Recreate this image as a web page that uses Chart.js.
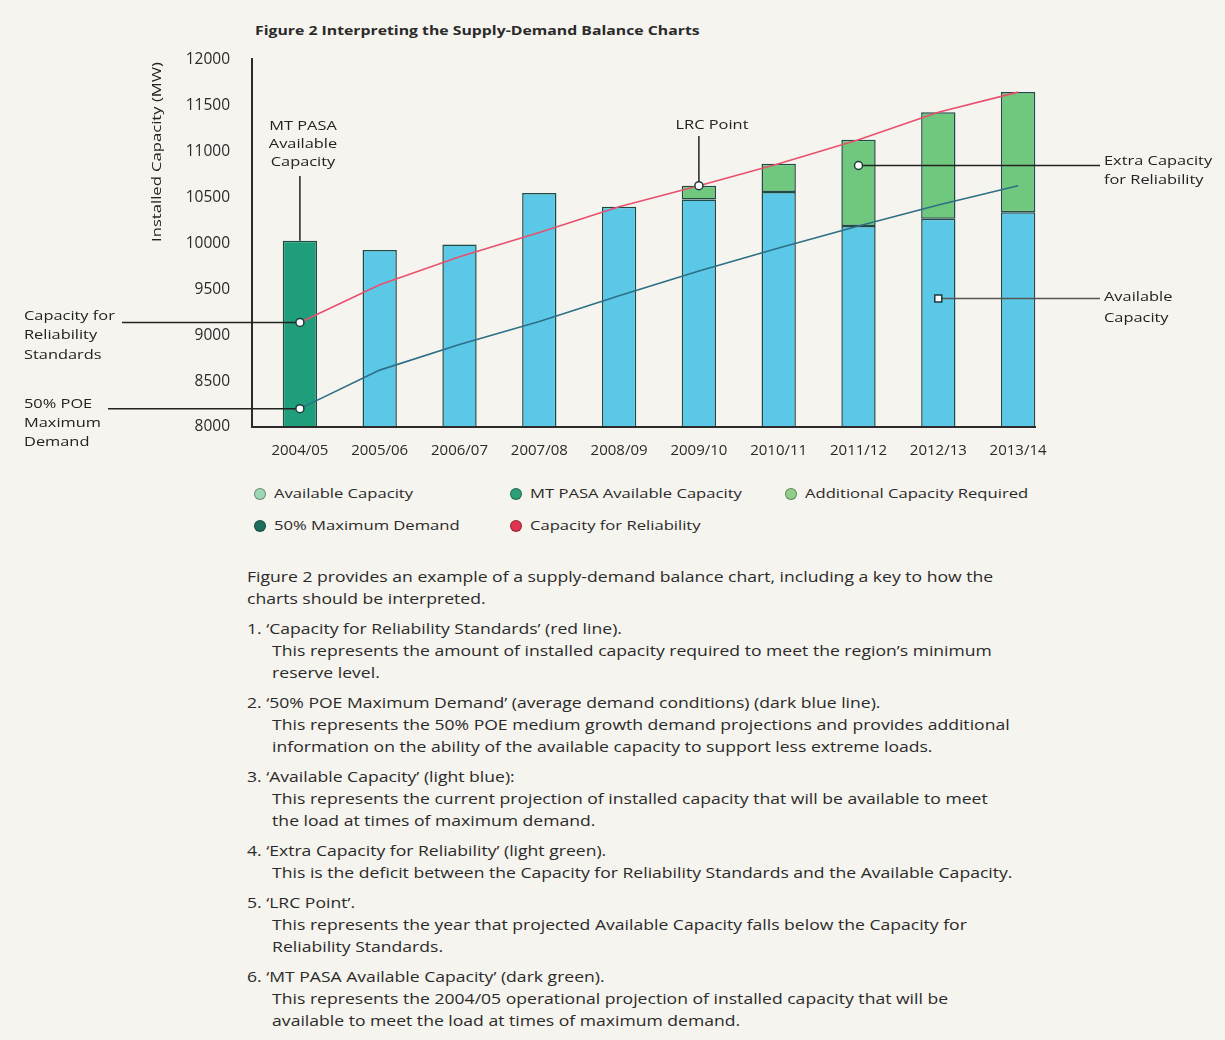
<!DOCTYPE html>
<html>
<head>
<meta charset="utf-8">
<script src="https://cdn.jsdelivr.net/npm/chart.js@4.4.1/dist/chart.umd.min.js"></script>
<style>
  html, body { margin: 0; padding: 0; }
  body {
    width: 1225px; height: 1040px; overflow: hidden; position: relative;
    background: #f6f4ee; color: #2a2a2a;
    font-family: "Open Sans", "Noto Sans", sans-serif;
  }
  #wrap { position: absolute; left: 0; top: 0; width: 1225px; height: 470px; }
  .title { position: absolute; left: 255px; top: 21px; font-size: 13px; font-weight: bold; white-space: nowrap;
    transform: scaleX(1.215); transform-origin: left center; }
  .legend { position: absolute; font-size: 13.5px; white-space: nowrap; height: 20px; }
  .legend .dot {
    position: absolute; left: 0; top: 4px; width: 10px; height: 10px; border-radius: 50%;
    border: 1.5px solid rgba(0,0,0,0.35);
  }
  .legend .txt { position: absolute; left: 20px; top: 0; transform: scaleX(1.23); transform-origin: left center; }
  .notes { position: absolute; left: 247px; top: 566px; font-size: 14px; line-height: 22px; white-space: nowrap;
    transform: scaleX(1.255); transform-origin: left top; }
  .notes .item { margin-top: 8px; padding-left: 20px; text-indent: -20px; }
</style>
</head>
<body>
<div class="title">Figure 2 Interpreting the Supply-Demand Balance Charts</div>
<div id="wrap"><canvas id="chart" width="1225" height="470"></canvas></div>

<div class="legend" style="left:254px; top:484px;"><span class="dot" style="background:#9fd6b5"></span><span class="txt">Available Capacity</span></div>
<div class="legend" style="left:510px; top:484px;"><span class="dot" style="background:#2e9f78"></span><span class="txt">MT PASA Available Capacity</span></div>
<div class="legend" style="left:785px; top:484px;"><span class="dot" style="background:#8fcf8a"></span><span class="txt">Additional Capacity Required</span></div>
<div class="legend" style="left:254px; top:516px;"><span class="dot" style="background:#1e6e5e"></span><span class="txt">50% Maximum Demand</span></div>
<div class="legend" style="left:510px; top:516px;"><span class="dot" style="background:#e0344e"></span><span class="txt">Capacity for Reliability</span></div>

<div class="notes">
  <div>Figure 2 provides an example of a supply-demand balance chart, including a key to how the<br>charts should be interpreted.</div>
  <div class="item">1. ‘Capacity for Reliability Standards’ (red line).<br>This represents the amount of installed capacity required to meet the region’s minimum<br>reserve level.</div>
  <div class="item">2. ‘50% POE Maximum Demand’ (average demand conditions) (dark blue line).<br>This represents the 50% POE medium growth demand projections and provides additional<br>information on the ability of the available capacity to support less extreme loads.</div>
  <div class="item">3. ‘Available Capacity’ (light blue):<br>This represents the current projection of installed capacity that will be available to meet<br>the load at times of maximum demand.</div>
  <div class="item">4. ‘Extra Capacity for Reliability’ (light green).<br>This is the deficit between the Capacity for Reliability Standards and the Available Capacity.</div>
  <div class="item">5. ‘LRC Point’.<br>This represents the year that projected Available Capacity falls below the Capacity for<br>Reliability Standards.</div>
  <div class="item">6. ‘MT PASA Available Capacity’ (dark green).<br>This represents the 2004/05 operational projection of installed capacity that will be<br>available to meet the load at times of maximum demand.</div>
</div>

<script>
const categories = ["2004/05", "2005/06", "2006/07", "2007/08", "2008/09", "2009/10", "2010/11", "2011/12", "2012/13", "2013/14"];
const mtPasaCapacity = [10030, null, null, null, null, null, null, null, null, null];
const availableCapacity = [null, 9930, 9990, 10550, 10400, 10480, 10560, 10190, 10270, 10340];
const extraCapacity = [null, null, null, null, null, 150, 310, 940, 1160, 1310];
const reliabilityCapacity = [9140, 9550, 9855, 10120, 10400, 10630, 10870, 11130, 11430, 11650];
const poeDemand = [8200, 8620, 8900, 9150, 9430, 9700, 9950, 10190, 10420, 10630];
const yTickValues = [8000, 8500, 9000, 9500, 10000, 10500, 11000, 11500, 12000];

// where the callout markers sit (category index, MW)
const extraMarker = [7, 10850];
const availableMarker = [8, 9400];

const font = '"Open Sans", "Noto Sans", sans-serif';
const ink = "#222";
const stretch = 1.26; // the source picture is wider than its type

function marker(ctx, x, y, square) {
  ctx.fillStyle = "#fff";
  ctx.strokeStyle = "#1f3a3a";
  ctx.lineWidth = 1.5;
  ctx.beginPath();
  if (square) ctx.rect(x - 3.5, y - 3.5, 7, 7);
  else ctx.arc(x, y, 4, 0, Math.PI * 2);
  ctx.fill();
  ctx.stroke();
}

function wideText(ctx, t, x, y) {
  ctx.save();
  ctx.translate(x, y);
  ctx.scale(stretch, 1);
  ctx.fillText(t, 0, 0);
  ctx.restore();
}

function lines(ctx, arr, x, y0, step) {
  arr.forEach((t, i) => wideText(ctx, t, x, y0 + i * step));
}

const callouts = {
  id: "callouts",
  afterDatasetsDraw(chart) {
    const { ctx, chartArea: a, scales: { x, y } } = chart;
    const px = (i) => x.getPixelForValue(i);
    const py = (v) => y.getPixelForValue(v);
    ctx.save();

    // axis lines
    ctx.strokeStyle = "#2b2b2b";
    ctx.lineWidth = 2;
    ctx.beginPath();
    ctx.moveTo(a.left - 8, a.top - 2);
    ctx.lineTo(a.left - 8, a.bottom);
    ctx.lineTo(a.right - 22, a.bottom);
    ctx.stroke();

    // y axis title
    ctx.save();
    ctx.translate(157, 152);
    ctx.rotate(-Math.PI / 2);
    ctx.scale(1.23, 1);
    ctx.fillStyle = ink;
    ctx.font = "13.5px " + font;
    ctx.textAlign = "center";
    ctx.textBaseline = "middle";
    ctx.fillText("Installed Capacity (MW)", 0, 0);
    ctx.restore();

    // leader lines
    ctx.strokeStyle = ink;
    ctx.lineWidth = 1.5;
    const crs = [px(0), py(reliabilityCapacity[0])];
    const poe = [px(0), py(poeDemand[0])];
    const lrc = [px(5), py(reliabilityCapacity[5])];
    const ext = [px(extraMarker[0]), py(extraMarker[1])];
    const av = [px(availableMarker[0]), py(availableMarker[1])];
    const mt = [px(0), py(mtPasaCapacity[0])];
    ctx.beginPath();
    ctx.moveTo(122, crs[1]); ctx.lineTo(crs[0], crs[1]);
    ctx.moveTo(108, poe[1]); ctx.lineTo(poe[0], poe[1]);
    ctx.moveTo(mt[0], 176); ctx.lineTo(mt[0], mt[1]);
    ctx.moveTo(lrc[0], 136); ctx.lineTo(lrc[0], lrc[1]);
    ctx.moveTo(ext[0], ext[1]); ctx.lineTo(1100, ext[1]);
    ctx.stroke();
    ctx.strokeStyle = "#555";
    ctx.beginPath();
    ctx.moveTo(av[0], av[1]); ctx.lineTo(1100, av[1]);
    ctx.stroke();

    marker(ctx, crs[0], crs[1]);
    marker(ctx, poe[0], poe[1]);
    marker(ctx, lrc[0], lrc[1]);
    marker(ctx, ext[0], ext[1]);
    marker(ctx, av[0], av[1], true);

    // callout text
    ctx.fillStyle = ink;
    ctx.font = "13px " + font;
    ctx.textBaseline = "middle";
    ctx.textAlign = "left";
    lines(ctx, ["Capacity for", "Reliability", "Standards"], 24, 316, 19.5);
    lines(ctx, ["50% POE", "Maximum", "Demand"], 24, 404, 19);
    lines(ctx, ["Extra Capacity", "for Reliability"], 1104, 161, 19);
    lines(ctx, ["Available", "Capacity"], 1104, 297, 21);
    ctx.textAlign = "center";
    lines(ctx, ["MT PASA", "Available", "Capacity"], 303, 126, 18);
    wideText(ctx, "LRC Point", 712, 125);
    ctx.restore();
  }
};

const border = "#1f4a45";
new Chart(document.getElementById("chart"), {
  type: "bar",
  data: {
    labels: categories,
    datasets: [
      { type: "line", label: "Capacity for Reliability", data: reliabilityCapacity, stack: "red",
        borderColor: "#e8506e", borderWidth: 1.6, pointRadius: 0, tension: 0, order: 0 },
      { type: "line", label: "50% POE Maximum Demand", data: poeDemand, stack: "blue",
        borderColor: "#2d6f86", borderWidth: 1.6, pointRadius: 0, tension: 0, order: 0 },
      { label: "MT PASA Available Capacity", data: mtPasaCapacity, stack: "cap",
        backgroundColor: "#1f9e7c", borderColor: border, order: 1 },
      { label: "Available Capacity", data: availableCapacity, stack: "cap",
        backgroundColor: "#5cc8e8", borderColor: border, order: 1 },
      { label: "Extra Capacity for Reliability", data: extraCapacity, stack: "cap",
        backgroundColor: "#70c87e", borderColor: border, order: 1 }
    ]
  },
  plugins: [callouts],
  options: {
    responsive: false,
    animation: false,
    layout: { padding: { left: 0, top: 60, right: 167, bottom: 0 } },
    datasets: {
      bar: { barPercentage: 0.43, categoryPercentage: 1, borderWidth: 1.5, borderSkipped: false }
    },
    plugins: { legend: { display: false }, tooltip: { enabled: false } },
    scales: {
      x: {
        stacked: true,
        grid: { display: false, drawTicks: false },
        border: { display: false },
        ticks: { color: "#2a2a2a", padding: 15, maxRotation: 0, font: { family: font, size: 15 } },
        afterFit: (s) => { s.height = 43; }
      },
      y: {
        stacked: true,
        min: 8000,
        max: 12000,
        grid: { display: false, drawTicks: false },
        border: { display: false },
        afterBuildTicks: (s) => { s.ticks = yTickValues.map((v) => ({ value: v })); },
        ticks: { color: "#2a2a2a", padding: 30, font: { family: font, size: 15.5 }, callback: (v) => String(v) },
        afterFit: (s) => { s.width = 260; }
      }
    }
  }
});
</script>
</body>
</html>
